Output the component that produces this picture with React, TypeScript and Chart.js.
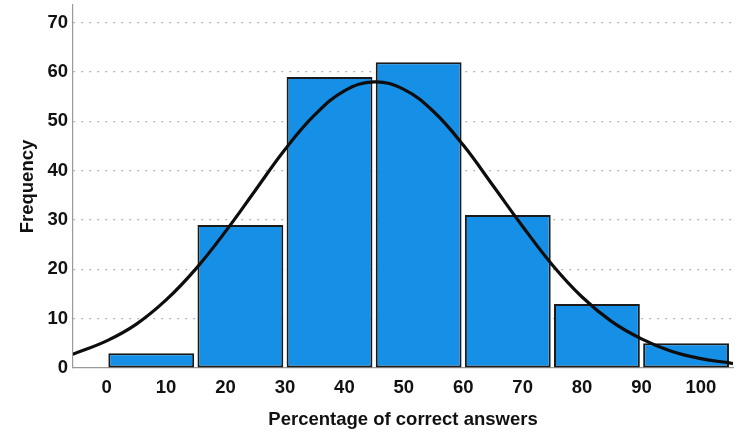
import React, { useEffect, useRef } from 'react';
import { Chart, registerables } from 'chart.js';

Chart.register(...registerables);

// Histogram bins (bin width 15)
const binStarts = [0, 15, 30, 45, 60, 75, 90];
const binWidth = 15;
const frequencies = [3, 29, 59, 62, 31, 13, 5];

// Fitted normal curve
const curveX = [-5.7, 0, 5, 10, 15, 20, 25, 30, 35, 40, 45, 50, 55, 60, 65, 70, 75, 80, 85, 90, 95, 100, 105, 105.4];
const curveY = [2.8, 5.5, 8.9, 13.8, 20.1, 27.7, 36.0, 44.3, 51.3, 56.2, 58.0, 56.5, 52.0, 45.2, 37.0, 28.7, 20.9, 14.4, 9.4, 5.9, 3.4, 1.9, 1.0, 0.9];

const xTickValues = [0, 10, 20, 30, 40, 50, 60, 70, 80, 90, 100];
const yTickValues = [0, 10, 20, 30, 40, 50, 60, 70];
const xTickStep = 10;

const xTitle = 'Percentage of correct answers';
const yTitle = 'Frequency';

export default function App() {
  const canvasRef = useRef<HTMLCanvasElement | null>(null);

  useEffect(() => {
    document.body.style.margin = '0';
    const canvas = canvasRef.current;
    if (!canvas) return;
    const font = { family: '"Liberation Sans", Arial, sans-serif', size: 18.5, weight: 'bold' as const };
    const textColor = '#111111';
    const chart = new Chart(canvas, {
      type: 'bar',
      data: {
        datasets: [
          {
            type: 'line' as const,
            data: curveX.map((x, i) => ({ x, y: curveY[i] })),
            borderColor: '#0d0d0d',
            borderWidth: 3.2,
            pointRadius: 0,
            tension: 0.4,
            fill: false,
            order: 0,
          } as any,
          {
            type: 'bar' as const,
            data: binStarts.map((s, i) => ({ x: s + binWidth / 2, y: frequencies[i] })),
            backgroundColor: 'rgb(22,143,230)',
            borderColor: '#1a1a1a',
            borderWidth: 2,
            borderSkipped: false,
            // ruler uses tick spacing (10), bins are 15 wide
            categoryPercentage: binWidth / xTickStep,
            barPercentage: 0.963,
            grouped: false,
            order: 1,
          } as any,
        ],
      },
      options: {
        responsive: false,
        animation: false,
        layout: { padding: { top: 5, right: 17, left: 0, bottom: 0 } },
        plugins: { legend: { display: false }, tooltip: { enabled: false } },
        scales: {
          x: {
            type: 'linear',
            min: -5.67,
            max: 105.4,
            offset: false,
            grid: { display: false, drawTicks: false },
            border: { display: true, color: '#9a9a9a', width: 1.2 },
            ticks: { padding: 9, font, color: textColor, autoSkip: false, maxRotation: 0, includeBounds: false },
            afterBuildTicks: (s: any) => {
              s.ticks = xTickValues.map((v) => ({ value: v }));
            },
            afterFit: (s: any) => {
              s.height = 73;
              s.paddingLeft = 0;
              s.paddingRight = 0;
            },
            title: { display: true, text: xTitle, font, color: textColor, padding: { top: 0, bottom: 10 } },
          },
          y: {
            type: 'linear',
            min: 0,
            max: 73.6,
            grid: {
              display: true,
              drawTicks: false,
              color: (ctx: any) => (ctx.tick && ctx.tick.value === 0 ? 'rgba(0,0,0,0)' : '#b5b5b5'),
              lineWidth: 1.2,
            },
            border: { display: true, color: '#9a9a9a', width: 1.2, dash: [2, 6] },
            ticks: { padding: 5, font, color: textColor, includeBounds: false },
            afterBuildTicks: (s: any) => {
              s.ticks = yTickValues.map((v) => ({ value: v }));
            },
            afterFit: (s: any) => {
              s.width = 73;
              s.paddingTop = 0;
              s.paddingBottom = 0;
            },
            title: { display: true, text: yTitle, font, color: textColor, padding: { top: 17, bottom: 0 } },
          },
        },
      },
    } as any);
    return () => chart.destroy();
  }, []);

  return (
    <div style={{ width: 750, height: 441, background: '#fff' }}>
      <canvas ref={canvasRef} width={750} height={441} style={{ display: 'block' }} />
    </div>
  );
}
